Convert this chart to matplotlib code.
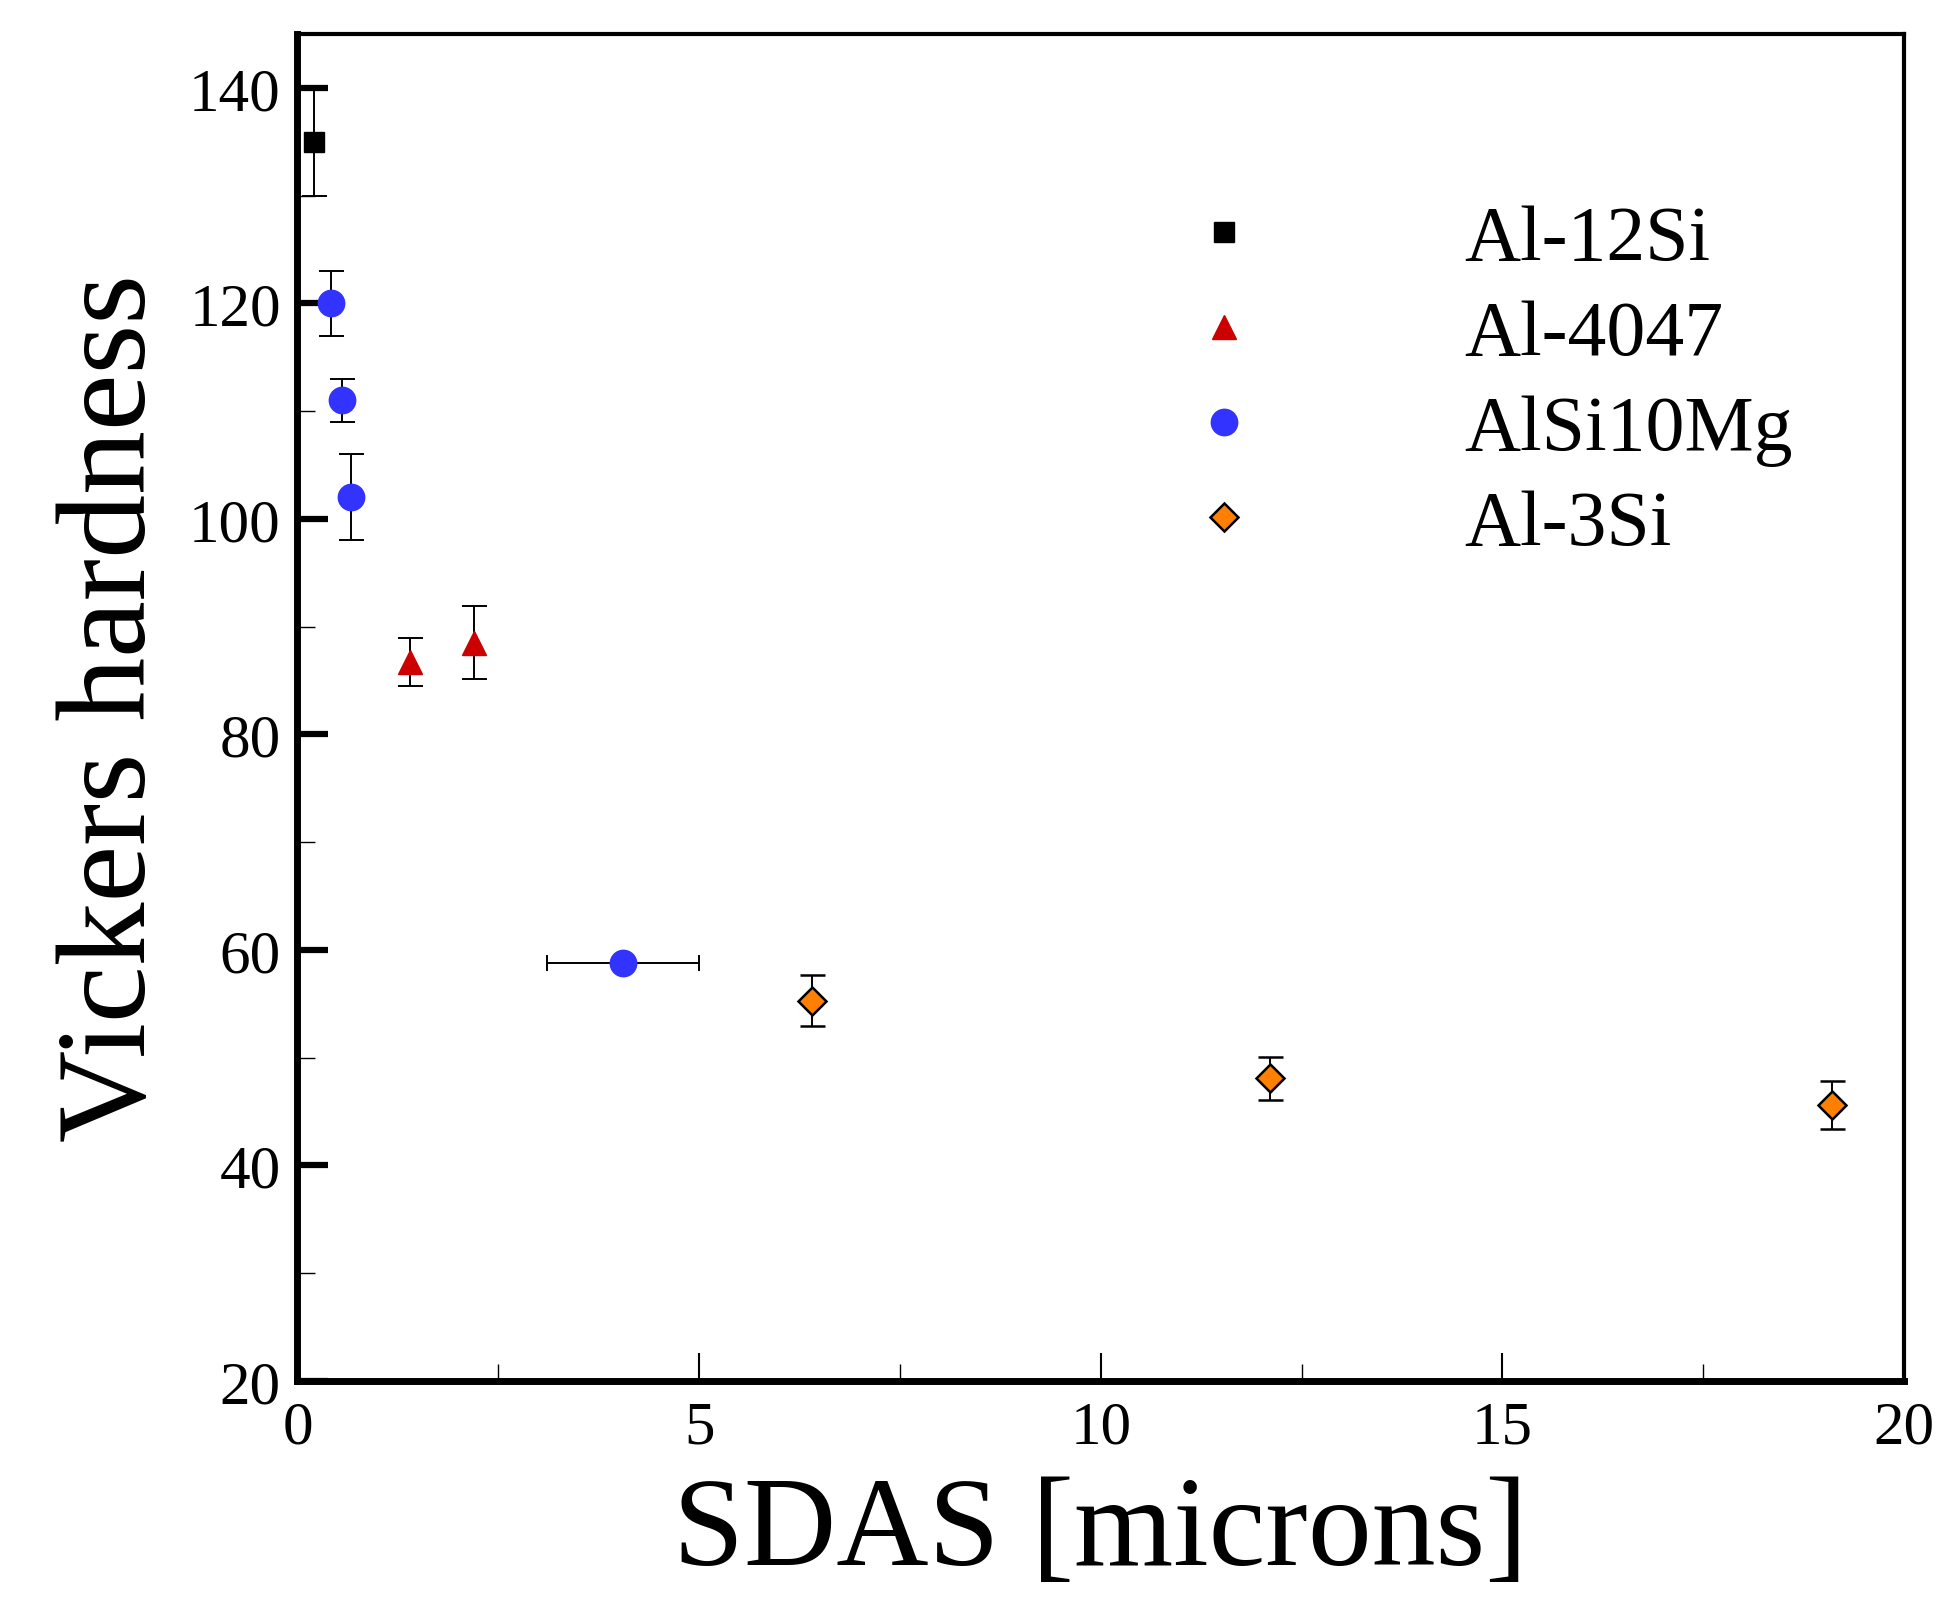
import matplotlib
matplotlib.use("Agg")
import matplotlib.pyplot as plt

plt.rcParams['font.family'] = ['Liberation Serif', 'STIXGeneral', 'DejaVu Serif']

# data
al12si_x = [0.2]
al12si_y = [135.0]
al12si_err = [5.0]

al4047_x = [1.4, 2.2]
al4047_y = [86.7, 88.5]
al4047_err = [2.2, 3.4]

alsi10mg_x = [0.42, 0.56, 0.67]
alsi10mg_y = [120.0, 111.0, 102.0]
alsi10mg_err = [3.0, 2.0, 4.0]

# the wide one with a horizontal error bar
alsi10mg_wide_x = [4.05]
alsi10mg_wide_y = [58.8]
alsi10mg_wide_xerr = [0.95]

al3si_x = [6.4, 12.1, 19.1]
al3si_y = [55.3, 48.1, 45.6]
al3si_err = [2.4, 2.0, 2.2]

labels = ['Al-12Si', 'Al-4047', 'AlSi10Mg', 'Al-3Si']

fig = plt.figure(figsize=(19.57, 16.24), dpi=100)
ax = fig.add_axes([0.152, 0.149, 0.821, 0.8295])

ekw = dict(ecolor='black', elinewidth=1.4, capsize=9, capthick=1.4, ls='none')

ax.errorbar(al12si_x, al12si_y, yerr=al12si_err, marker='s', ms=15,
            mfc='black', mec='black', **ekw)
ax.errorbar(al4047_x, al4047_y, yerr=al4047_err, marker='^', ms=17,
            mfc='#cc0000', mec='#cc0000', **ekw)
ax.errorbar(alsi10mg_x, alsi10mg_y, yerr=alsi10mg_err, marker='o', ms=19,
            mfc='#3333ff', mec='#3333ff', **ekw)
ax.errorbar(alsi10mg_wide_x, alsi10mg_wide_y, xerr=alsi10mg_wide_xerr, marker='o', ms=19,
            mfc='#3333ff', mec='#3333ff', ecolor='black', elinewidth=1.4,
            capsize=6, capthick=1.4, ls='none')
ax.errorbar(al3si_x, al3si_y, yerr=al3si_err, marker='D', ms=14,
            mfc='#ff8000', mec='black', mew=1.8, **ekw)

# legend handles without error bars
h1, = ax.plot([], [], 's', ms=15, mfc='black', mec='black')
h2, = ax.plot([], [], '^', ms=17, mfc='#cc0000', mec='#cc0000')
h3, = ax.plot([], [], 'o', ms=19, mfc='#3333ff', mec='#3333ff')
h4, = ax.plot([], [], 'D', ms=14, mfc='#ff8000', mec='black', mew=1.8)
ax.legend([h1, h2, h3, h4], labels, loc='upper left', bbox_to_anchor=(0.528, 0.902),
          frameon=False, fontsize=56, handlelength=1.0, handletextpad=2.6,
          labelspacing=0.3, borderpad=0)

ax.set_xlim(0, 20)
ax.set_ylim(20, 145)
ax.set_xticks([0, 5, 10, 15, 20])
ax.set_xticks([2.5, 7.5, 12.5, 17.5], minor=True)
ax.set_yticks([20, 40, 60, 80, 100, 120, 140])
ax.set_yticks([30, 50, 70, 90, 110, 130], minor=True)

ax.tick_params(axis='both', which='both', direction='in', top=False, right=False)
ax.tick_params(axis='x', which='major', length=20, width=1.5, labelsize=44, pad=14)
ax.tick_params(axis='x', which='minor', length=12, width=1.0)
ax.tick_params(axis='y', which='major', length=22, width=4.5, labelsize=44, pad=12)
ax.tick_params(axis='y', which='minor', length=13, width=1.0)

ax.spines['left'].set_linewidth(5)
ax.spines['bottom'].set_linewidth(5)
ax.spines['top'].set_linewidth(3)
ax.spines['right'].set_linewidth(3)

ax.set_xlabel('SDAS [microns]', fontsize=92, labelpad=14)
ax.set_ylabel('Vickers hardness', fontsize=92, labelpad=12)

fig.savefig('out.png', dpi=100)
